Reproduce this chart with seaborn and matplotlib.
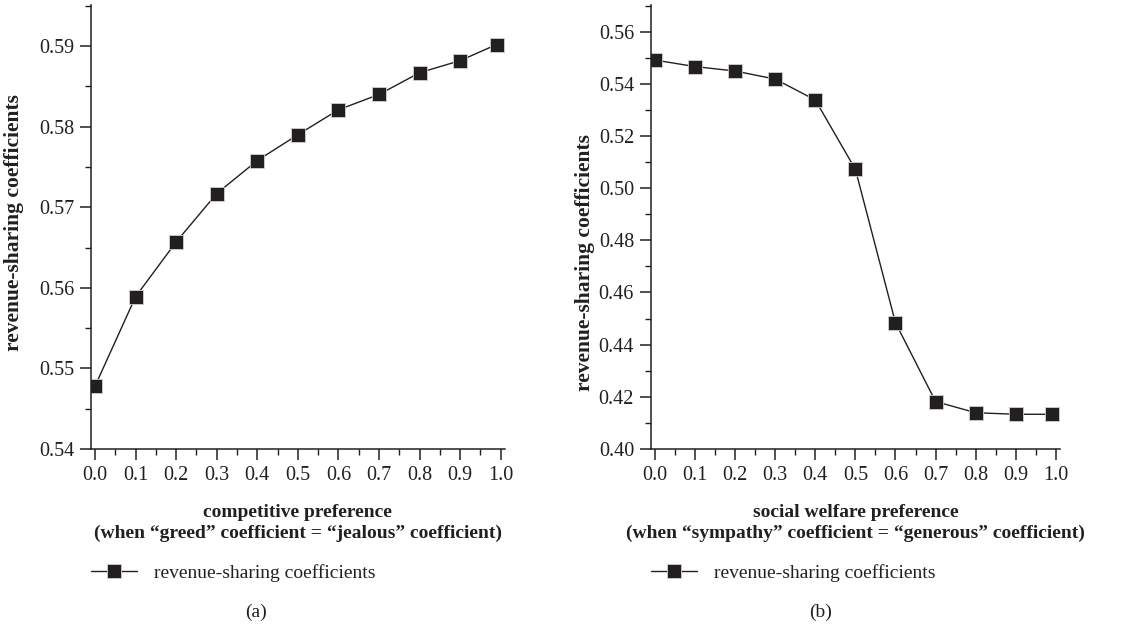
import matplotlib
matplotlib.use("Agg")
import matplotlib.pyplot as plt
import pandas as pd
import seaborn as sns
from matplotlib.lines import Line2D
from matplotlib.ticker import MultipleLocator, FormatStrFormatter

# data
pref = [0.0, 0.1, 0.2, 0.3, 0.4, 0.5, 0.6, 0.7, 0.8, 0.9, 0.99]
coef_competitive = [0.5478, 0.5589, 0.5657, 0.5717, 0.5758, 0.5790,
                    0.5821, 0.5840, 0.5867, 0.5882, 0.5902]
coef_social = [0.5491, 0.5466, 0.5449, 0.5418, 0.5338, 0.5072,
               0.4484, 0.4182, 0.4139, 0.4133, 0.4133]
xlabels = [
    "competitive preference\n(when \u201cgreed\u201d coefficient = \u201cjealous\u201d coefficient)",
    "social welfare preference\n(when \u201csympathy\u201d coefficient = \u201cgenerous\u201d coefficient)",
]
series_name = "revenue-sharing coefficients"
panel_tags = ["(a)", "(b)"]

sns.set_style("ticks")
plt.rcParams["font.family"] = ["Liberation Serif", "DejaVu Serif"]

INK = "#231f20"

fig = plt.figure(figsize=(11.27, 6.29), dpi=100)
ax_a = fig.add_axes([0.0805, 0.2862, 0.3676, 0.7058])
ax_b = fig.add_axes([0.5774, 0.2862, 0.3632, 0.7058])

panels = [
    (ax_a, coef_competitive, (0.54, 0.5951), 0.01, 0.005, (-0.16, 0.511), 0.399),
    (ax_b, coef_social, (0.40, 0.5702), 0.02, 0.01, (-0.135, 0.421), 0.416),
]


def square_handle():
    return Line2D([], [], color=INK, linewidth=1.0, marker="s",
                  markersize=9.5, markerfacecolor=INK,
                  markeredgecolor="#d0d0d0", markeredgewidth=0.6)


for i, (ax, vals, ylim, major, minor, ylab_pos, tag_x) in enumerate(panels):
    df = pd.DataFrame({"x": pref, "y": vals})
    sns.lineplot(data=df, x="x", y="y", ax=ax, color=INK, linewidth=1.0,
                 marker="s", markersize=9.5, markerfacecolor=INK,
                 markeredgecolor="#d0d0d0", markeredgewidth=0.6)
    ax.set_xlim(-0.0106, 1.0106)
    ax.set_ylim(*ylim)
    ax.xaxis.set_major_locator(MultipleLocator(0.1))
    ax.xaxis.set_minor_locator(MultipleLocator(0.05))
    ax.xaxis.set_major_formatter(FormatStrFormatter("%.1f"))
    ax.yaxis.set_major_locator(MultipleLocator(major))
    ax.yaxis.set_minor_locator(MultipleLocator(minor))
    ax.yaxis.set_major_formatter(FormatStrFormatter("%.2f"))
    ax.tick_params(which="major", length=8, width=1.1, color=INK,
                   labelsize=14.5, labelcolor=INK, pad=4)
    ax.tick_params(which="minor", length=4.5, width=1.0, color=INK)
    for side in ["top", "right"]:
        ax.spines[side].set_visible(False)
    for side in ["left", "bottom"]:
        ax.spines[side].set_color(INK)
        ax.spines[side].set_linewidth(1.1)
    ax.set_xlabel(xlabels[i], fontsize=14, fontweight="bold", color=INK,
                  labelpad=14, linespacing=1.25)
    ax.set_ylabel(series_name, fontsize=15.5, fontweight="bold", color=INK)
    ax.yaxis.set_label_coords(*ylab_pos)

    ax.legend([square_handle()], [series_name], loc="center left",
              bbox_to_anchor=(0.0, -0.279), frameon=False, fontsize=14,
              borderaxespad=0, borderpad=0, handlelength=2.4,
              handletextpad=0.85, labelcolor=INK)
    ax.text(tag_x, -0.369, panel_tags[i], transform=ax.transAxes,
            ha="center", va="center", fontsize=14, color=INK)

fig.savefig("out.png", dpi=100)
